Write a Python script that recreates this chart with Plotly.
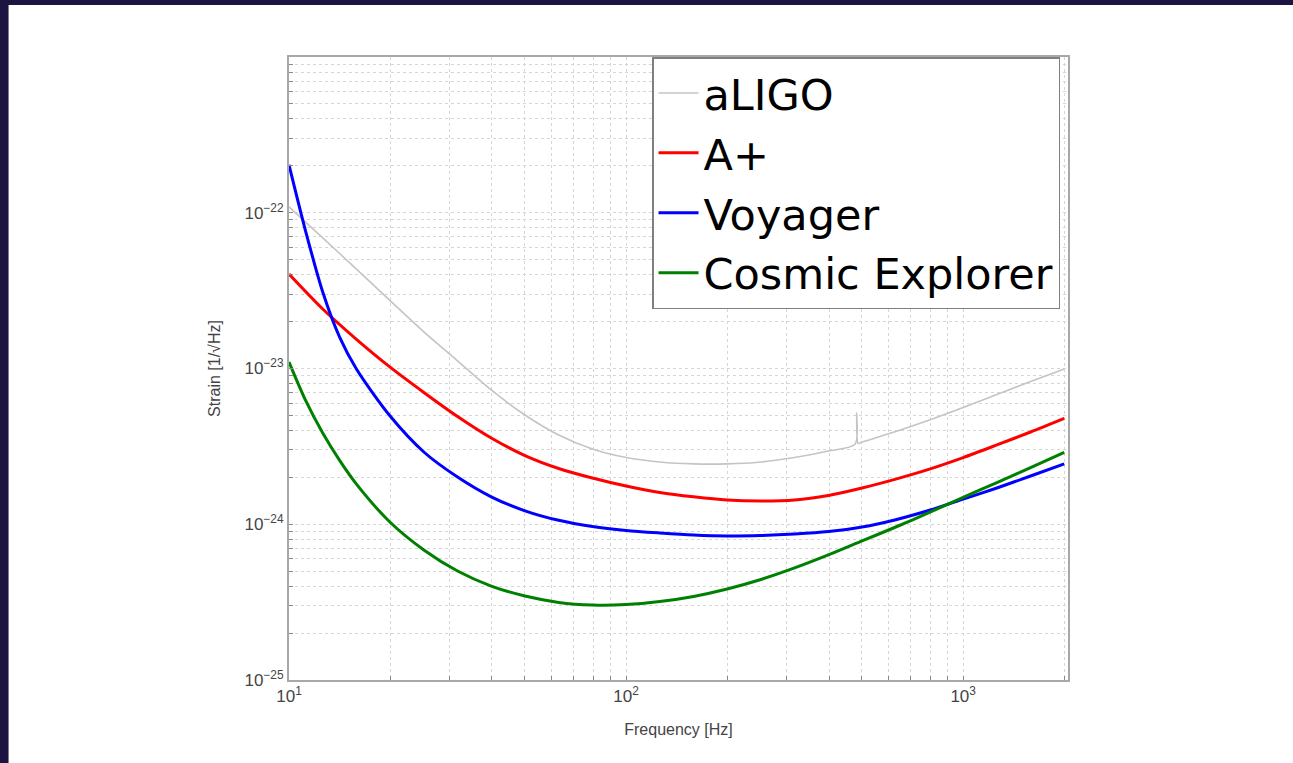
import plotly.graph_objects as go

series_names = ["aLIGO", "A+", "Voyager", "Cosmic Explorer"]

aligo_f = [10, 12.59, 15.85, 19.95, 25.12, 31.62, 39.81, 50.12, 63.10, 79.43, 100, 125.9, 158.5, 199.5,
           251.2, 316.2, 398.1, 478, 483, 488, 501.2, 631.0, 794.3, 1000, 1259, 1585, 1995]
aligo = [1.09e-22, 6.89e-23, 4.35e-23, 2.73e-23, 1.72e-23, 1.12e-23, 7.28e-24, 5.03e-24, 3.74e-24, 3.04e-24,
         2.68e-24, 2.51e-24, 2.44e-24, 2.44e-24, 2.51e-24, 2.68e-24, 2.95e-24, 3.27e-24, 5.18e-24, 3.30e-24,
         3.37e-24, 3.94e-24, 4.67e-24, 5.62e-24, 6.81e-24, 8.25e-24, 9.93e-24]

aplus_f = [10, 12.59, 15.85, 19.95, 25.12, 31.62, 39.81, 50.12, 63.10, 79.43, 100, 125.9, 158.5, 199.5,
           251.2, 316.2, 398.1, 501.2, 631.0, 794.3, 1000, 1259, 1585, 1995]
aplus = [4.04e-23, 2.41e-23, 1.54e-23, 1.02e-23, 7.02e-24, 4.92e-24, 3.58e-24, 2.76e-24, 2.28e-24, 1.98e-24,
         1.76e-24, 1.60e-24, 1.50e-24, 1.43e-24, 1.41e-24, 1.43e-24, 1.53e-24, 1.71e-24, 1.95e-24, 2.26e-24,
         2.68e-24, 3.23e-24, 3.91e-24, 4.78e-24]

voyager_f = [10, 11.22, 12.59, 14.13, 15.85, 19.95, 25.12, 31.62, 39.81, 50.12, 63.10, 79.43, 100, 125.9,
             158.5, 199.5, 251.2, 316.2, 398.1, 501.2, 631.0, 794.3, 1000, 1259, 1585, 1995]
voyager = [2.03e-22, 7.52e-23, 3.10e-23, 1.59e-23, 9.93e-24, 4.95e-24, 2.91e-24, 2.01e-24, 1.50e-24, 1.22e-24,
           1.06e-24, 9.67e-25, 9.12e-25, 8.79e-25, 8.53e-25, 8.41e-25, 8.47e-25, 8.66e-25, 8.98e-25, 9.60e-25,
           1.07e-24, 1.23e-24, 1.45e-24, 1.71e-24, 2.04e-24, 2.44e-24]

ce_f = [10, 11.22, 12.59, 14.13, 15.85, 19.95, 25.12, 31.62, 39.81, 50.12, 63.10, 79.43, 100, 125.9,
        158.5, 199.5, 251.2, 316.2, 398.1, 501.2, 631.0, 794.3, 1000, 1259, 1585, 1995]
ce = [1.10e-23, 6.19e-24, 3.85e-24, 2.57e-24, 1.81e-24, 1.03e-24, 6.84e-25, 5.01e-25, 4.01e-25, 3.46e-25,
      3.15e-25, 3.03e-25, 3.05e-25, 3.19e-25, 3.44e-25, 3.84e-25, 4.42e-25, 5.24e-25, 6.35e-25, 7.81e-25,
      9.60e-25, 1.19e-24, 1.49e-24, 1.85e-24, 2.31e-24, 2.89e-24]

x_ticks = [10, 20, 30, 40, 50, 60, 70, 80, 90, 100, 200, 300, 400, 500, 600, 700, 800, 900, 1000, 2000]
x_ticktext = ["10<sup>1</sup>"] + [""] * 8 + ["10<sup>2</sup>"] + [""] * 8 + ["10<sup>3</sup>", ""]

y_ticks = []
y_ticktext = []
for e in [-25, -24, -23, -22]:
    for m in range(1, 10):
        y_ticks.append(m * 10.0 ** e)
        y_ticktext.append("10<sup>\u2212%d</sup>" % (-e) if m == 1 else "")
y_ticks.append(1e-21)
y_ticktext.append("")

fig = go.Figure()
styles = [("#c4c4c4", 1.6), ("#ff0000", 3), ("#0000ff", 3), ("#008000", 3)]
data = [(aligo_f, aligo), (aplus_f, aplus), (voyager_f, voyager), (ce_f, ce)]
for name, (fx, fy), (c, w) in zip(series_names, data, styles):
    fig.add_trace(go.Scatter(x=fx, y=fy, mode="lines", name=name, legendgroup=name,
                             line=dict(color=c, width=w, shape="spline", smoothing=0.8)))

tick_font = dict(family="Liberation Sans, Arial", size=17, color="#444444")
axis_common = dict(
    showline=True, linecolor="#a8a8a8", linewidth=2, mirror=True,
    showgrid=True, gridcolor="#d6d6d6", gridwidth=1, griddash="dot",
    ticks="inside", ticklen=4, tickcolor="#888888",
    tickfont=tick_font,
    zeroline=False,
)

fig.update_xaxes(type="log", range=[1, 3.311], tickmode="array", tickvals=x_ticks, ticktext=x_ticktext,
                 title=dict(text="Frequency [Hz]", standoff=18,
                            font=dict(family="Liberation Sans, Arial", size=16, color="#444444")),
                 **axis_common)
fig.update_yaxes(type="log", range=[-25, -21], tickmode="array", tickvals=y_ticks, ticktext=y_ticktext,
                 title=dict(text="Strain [1/\u221aHz]", standoff=20,
                            font=dict(family="Liberation Sans, Arial", size=16, color="#444444")),
                 **axis_common)

fig.update_layout(
    width=1293, height=763,
    margin=dict(l=289, r=225, t=57, b=83),
    paper_bgcolor="#1c1541",
    plot_bgcolor="white",
    legend=dict(x=0.466, y=1.0, xanchor="left", yanchor="top",
                bgcolor="white", bordercolor="#808080", borderwidth=1.5,
                font=dict(family="DejaVu Sans", size=43, color="black"),
                tracegroupgap=1, itemwidth=40),
    shapes=[dict(type="rect", xref="paper", yref="paper", x0=-0.36, x1=1.4, y0=-0.3, y1=1.0835,
                 fillcolor="white", line=dict(width=0), layer="below")],
)

fig.write_html("out.html")
